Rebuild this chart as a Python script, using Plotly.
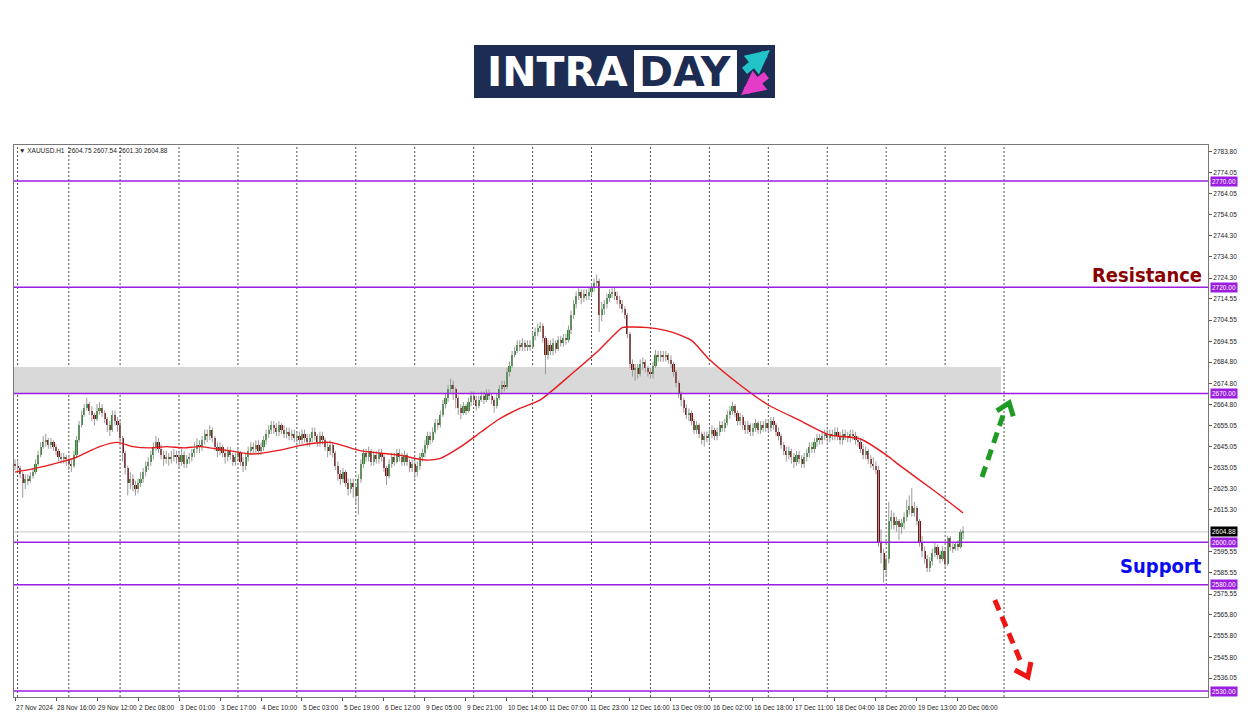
import plotly.graph_objects as go

# ---------------- data (XAUUSD H1) ----------------
first_open = 2637
closes = [
    # 27/28 Nov (bars 0-20)
    2636, 2635, 2632, 2628, 2630, 2629, 2631, 2633, 2637, 2641, 2645, 2647, 2648, 2646, 2647, 2645, 2643, 2640, 2639, 2640, 2639,
    # 29 Nov (21-40)
    2637, 2636, 2641, 2648, 2655, 2660, 2663, 2665, 2662, 2660, 2658, 2662, 2663, 2661, 2658, 2655, 2653, 2660, 2657, 2655,
    # 2 Dec (41-63)
    2649, 2642, 2635, 2628, 2630, 2627, 2625, 2628, 2630, 2633, 2636, 2638, 2641, 2645, 2647, 2644, 2641, 2639, 2640, 2639, 2640, 2641, 2640,
    # 3 Dec (64-86)
    2638, 2641, 2637, 2639, 2640, 2642, 2644, 2646, 2645, 2648, 2651, 2650, 2653, 2649, 2645, 2643, 2645, 2642, 2640, 2643, 2641, 2638, 2640,
    # 4 Dec (87-109)
    2642, 2638, 2636, 2640, 2643, 2645, 2644, 2646, 2643, 2645, 2648, 2651, 2653, 2655, 2654, 2652, 2655, 2653, 2651, 2652, 2650, 2651, 2649,
    # 5 Dec (110-132)
    2650, 2648, 2651, 2649, 2647, 2649, 2652, 2650, 2647, 2650, 2648, 2645, 2643, 2646, 2642, 2636, 2632, 2630, 2633, 2628, 2625, 2628, 2626,
    # 6 Dec (133-155)
    2622, 2630, 2637, 2642, 2640, 2643, 2638, 2641, 2639, 2642, 2640, 2635, 2631, 2637, 2640, 2638, 2642, 2640, 2638, 2641, 2638, 2635, 2637,
    # 9 Dec (156-178)
    2633, 2636, 2640, 2642, 2646, 2650, 2648, 2652, 2656, 2655, 2660, 2665, 2668, 2672, 2674, 2672, 2668, 2663, 2661, 2664, 2662, 2666, 2669,
    # 10 Dec (179-201)
    2667, 2664, 2667, 2669, 2667, 2670, 2669, 2667, 2664, 2668, 2672, 2674, 2673, 2680, 2683, 2688, 2690, 2693, 2692, 2694, 2692, 2693, 2692,
    # 11 Dec (202-224)
    2697, 2699, 2701, 2702, 2696, 2688, 2693, 2690, 2694, 2691, 2695, 2694, 2696, 2695, 2700, 2707, 2712, 2716, 2718, 2715, 2717, 2716, 2718,
    # 12 Dec (225-247)
    2720, 2722, 2723, 2707, 2710, 2712, 2715, 2717, 2718, 2716, 2714, 2712, 2710, 2707, 2698, 2684, 2681, 2682, 2679, 2684, 2685, 2682, 2680,
    # 13 Dec (248-270)
    2679, 2683, 2688, 2687, 2688, 2687, 2688, 2686, 2684, 2680, 2675, 2670, 2667, 2663, 2660, 2661, 2657, 2653, 2655, 2651, 2648, 2650, 2649,
    # 16 Dec (271-293)
    2651, 2653, 2650, 2652, 2655, 2654, 2656, 2660, 2662, 2664, 2661, 2657, 2659, 2655, 2653, 2655, 2652, 2654, 2656, 2653, 2655, 2654, 2656,
    # 17 Dec (294-316)
    2654, 2657, 2655, 2652, 2650, 2646, 2643, 2641, 2643, 2640, 2638, 2641, 2639, 2637, 2640, 2642, 2645, 2644, 2647, 2649, 2648, 2650, 2651,
    # 18 Dec (317-339)
    2649, 2651, 2650, 2652, 2650, 2648, 2651, 2650, 2649, 2651, 2650, 2648, 2647, 2644, 2641, 2643, 2639, 2637, 2636, 2634, 2600, 2595, 2587,
    # 19 Dec (340-362)
    2592, 2610, 2612, 2608, 2610, 2607, 2609, 2612, 2615, 2617, 2614, 2616, 2610, 2600, 2596, 2592, 2588, 2591, 2595, 2598, 2594, 2592, 2596,
    # 20 Dec (363-370)
    2590, 2602, 2598, 2597, 2599, 2598, 2604.75, 2604.88,
]
highs = [
    2639, 2638, 2636, 2633, 2632, 2632, 2633, 2635, 2639, 2643, 2647, 2650, 2651, 2649, 2649, 2648, 2646, 2644, 2642, 2642, 2641,
    2640, 2639, 2643, 2650, 2657, 2662, 2665, 2668, 2666, 2664, 2661, 2665, 2666, 2665, 2662, 2659, 2657, 2662, 2662, 2659,
    2657, 2650, 2643, 2636, 2633, 2632, 2629, 2630, 2633, 2635, 2638, 2640, 2643, 2647, 2650, 2649, 2646, 2643, 2643, 2642, 2643, 2644, 2643,
    2642, 2644, 2643, 2641, 2642, 2644, 2647, 2649, 2648, 2650, 2653, 2653, 2655, 2654, 2650, 2647, 2647, 2646, 2644, 2645, 2645, 2642, 2642,
    2644, 2643, 2640, 2642, 2645, 2647, 2647, 2648, 2648, 2647, 2650, 2653, 2655, 2657, 2657, 2656, 2657, 2656, 2655, 2654, 2654, 2653, 2653,
    2652, 2652, 2653, 2653, 2651, 2651, 2654, 2654, 2651, 2652, 2652, 2649, 2647, 2648, 2647, 2643, 2638, 2634, 2635, 2634, 2630, 2630, 2630,
    2628, 2632, 2639, 2644, 2644, 2645, 2644, 2643, 2643, 2644, 2644, 2641, 2636, 2639, 2642, 2642, 2644, 2644, 2642, 2643, 2642, 2639, 2639,
    2638, 2638, 2642, 2644, 2648, 2652, 2652, 2654, 2658, 2658, 2662, 2667, 2670, 2674, 2677, 2676, 2673, 2669, 2665, 2666, 2665, 2668, 2671,
    2671, 2669, 2669, 2671, 2671, 2672, 2672, 2670, 2668, 2670, 2674, 2676, 2676, 2682, 2685, 2690, 2692, 2695, 2695, 2696, 2695, 2695, 2695,
    2699, 2701, 2703, 2703.6, 2703, 2697, 2695, 2695, 2696, 2695, 2697, 2697, 2698, 2698, 2702, 2709, 2714, 2718, 2720, 2719, 2719, 2719, 2720,
    2722, 2724, 2726, 2724, 2713, 2714, 2717, 2719, 2720, 2720, 2718, 2716, 2714, 2711, 2708, 2699, 2686, 2684, 2684, 2686, 2687, 2686, 2683,
    2682, 2685, 2690.5, 2690, 2690, 2690, 2690, 2689, 2688, 2685, 2681, 2676, 2671, 2668, 2665, 2663, 2662, 2658, 2657, 2656, 2652, 2652, 2652,
    2653, 2655, 2654, 2654, 2657, 2657, 2658, 2662, 2664, 2666, 2665, 2662, 2661, 2660, 2657, 2657, 2656, 2656, 2658, 2657, 2657, 2657, 2658,
    2658, 2659, 2659, 2656, 2654, 2651, 2647, 2645, 2645, 2644, 2642, 2643, 2643, 2641, 2642, 2644, 2647, 2647, 2649, 2651, 2651, 2652, 2653,
    2653, 2653, 2653, 2654, 2654, 2652, 2653, 2653, 2652, 2653, 2653, 2652, 2650, 2649, 2646, 2645, 2644, 2641, 2640, 2638, 2636, 2606, 2597,
    2594, 2619, 2615, 2614, 2612, 2611, 2611, 2614, 2620, 2622, 2625.5, 2619, 2617, 2611, 2603, 2598, 2594, 2593, 2597, 2600, 2599, 2596, 2598,
    2597, 2603, 2603, 2600, 2600, 2601, 2606, 2607.54,
]
lows = [
    2634, 2633, 2630, 2621, 2625, 2627, 2628, 2630, 2632, 2636, 2640, 2644, 2645, 2644, 2644, 2643, 2641, 2638, 2637, 2637, 2636,
    2634, 2633, 2635, 2640, 2647, 2654, 2659, 2662, 2660, 2657, 2655, 2657, 2660, 2659, 2656, 2652, 2650, 2652, 2655, 2652,
    2646, 2638, 2632, 2622, 2625, 2624, 2622, 2623, 2626, 2628, 2631, 2634, 2636, 2639, 2643, 2642, 2639, 2636, 2637, 2636, 2637, 2638, 2637,
    2635, 2636, 2635, 2635, 2637, 2638, 2640, 2642, 2642, 2643, 2646, 2647, 2648, 2647, 2643, 2640, 2641, 2640, 2637, 2638, 2639, 2636, 2636,
    2638, 2636, 2633, 2634, 2638, 2641, 2642, 2642, 2641, 2641, 2643, 2646, 2649, 2651, 2651, 2650, 2650, 2651, 2649, 2649, 2648, 2648, 2647,
    2647, 2646, 2646, 2647, 2645, 2645, 2647, 2648, 2645, 2645, 2646, 2643, 2640, 2641, 2640, 2634, 2629, 2627, 2628, 2626, 2622, 2623, 2621,
    2618, 2613, 2628, 2635, 2638, 2638, 2636, 2636, 2637, 2637, 2638, 2633, 2627, 2630, 2635, 2636, 2637, 2638, 2636, 2636, 2636, 2633, 2633,
    2630, 2631, 2634, 2638, 2640, 2644, 2646, 2647, 2651, 2653, 2654, 2659, 2663, 2666, 2670, 2667, 2663, 2660, 2658, 2660, 2660, 2661, 2664,
    2665, 2662, 2663, 2666, 2665, 2666, 2667, 2665, 2661, 2663, 2667, 2670, 2671, 2672, 2678, 2682, 2687, 2689, 2690, 2690, 2690, 2690, 2690,
    2691, 2695, 2697, 2699, 2694, 2679, 2686, 2688, 2688, 2689, 2690, 2692, 2692, 2693, 2694, 2698, 2705, 2710, 2714, 2712, 2713, 2714, 2714,
    2716, 2718, 2720, 2699, 2704, 2707, 2710, 2713, 2715, 2714, 2712, 2710, 2708, 2705, 2696, 2682, 2678, 2676, 2677, 2678, 2681, 2680, 2678,
    2677, 2677, 2682, 2685, 2685, 2685, 2685, 2684, 2682, 2678, 2673, 2668, 2664, 2661, 2658, 2657, 2655, 2651, 2651, 2649, 2646, 2645, 2647,
    2647, 2649, 2648, 2648, 2650, 2652, 2652, 2655, 2658, 2660, 2659, 2655, 2655, 2653, 2651, 2651, 2650, 2650, 2652, 2651, 2651, 2652, 2652,
    2652, 2652, 2653, 2650, 2648, 2644, 2641, 2638, 2639, 2637, 2635, 2636, 2637, 2635, 2635, 2638, 2640, 2642, 2642, 2645, 2646, 2646, 2648,
    2647, 2647, 2648, 2648, 2648, 2646, 2646, 2648, 2647, 2647, 2648, 2646, 2645, 2642, 2639, 2639, 2637, 2635, 2634, 2632, 2598, 2590, 2581,
    2584, 2590, 2606, 2606, 2605, 2601, 2604, 2606, 2610, 2613, 2612, 2612, 2608, 2598, 2593, 2590, 2586, 2586, 2589, 2593, 2592, 2590, 2591,
    2588, 2589, 2596, 2595, 2596, 2596, 2597, 2601.30,
]

# moving average (read at selected bars)
ma_bars = [0, 7, 18, 24, 33, 40, 46, 53, 59, 66, 72, 84, 92, 104, 111, 123, 135, 150, 160, 166, 174, 182, 189,
           197, 205, 218, 228, 237, 240, 247, 256, 264, 271, 283, 294, 306, 318, 330, 340, 345, 352, 362, 370]
ma_vals = [2633.0, 2634.5, 2637.8, 2640.0, 2645.0, 2647.0, 2645.0, 2644.4, 2645.0, 2644.4, 2645.0, 2643.0, 2641.5,
           2643.5, 2645.5, 2647.0, 2643.0, 2641.0, 2638.7, 2639.5, 2645.0, 2652.0, 2658.0, 2663.0, 2667.0, 2680.0,
           2690.5, 2701.0, 2701.3, 2701.0, 2699.0, 2695.0, 2686.0, 2674.0, 2664.6, 2657.5, 2650.5, 2648.6, 2641.1,
           2636.4, 2630.2, 2621.3, 2613.8]

# levels
level_prices = [2770.00, 2720.00, 2670.00, 2600.00, 2580.00, 2530.00]
zone_low, zone_high, zone_end_bar = 2670.0, 2682.5, 384.8
day_start_bars = [1, 21, 41, 64, 87, 110, 133, 156, 179, 202, 225, 248, 271, 294, 317, 340, 363, 386]
last_price = 2604.88
header_text = "▼ XAUUSD.H1  2604.75 2607.54 2601.30 2604.88"

# axes
x_label_bars = [0, 16, 32, 48, 64, 80, 96, 112, 128, 144, 160, 176, 192, 208, 224, 240, 256, 272, 288, 304, 320, 336, 352, 368]
x_label_text = ["27 Nov 2024", "28 Nov 16:00", "29 Nov 12:00", "2 Dec 08:00", "3 Dec 01:00", "3 Dec 17:00",
                "4 Dec 10:00", "5 Dec 03:00", "5 Dec 19:00", "6 Dec 12:00", "9 Dec 05:00", "9 Dec 21:00",
                "10 Dec 14:00", "11 Dec 07:00", "11 Dec 23:00", "12 Dec 16:00", "13 Dec 09:00", "16 Dec 02:00",
                "16 Dec 18:00", "17 Dec 11:00", "18 Dec 04:00", "18 Dec 20:00", "19 Dec 13:00", "20 Dec 06:00"]
y_ticks = [2783.80, 2774.05, 2764.05, 2754.05, 2744.30, 2734.30, 2724.30, 2714.55, 2704.55, 2694.55, 2684.80,
           2674.80, 2664.80, 2655.05, 2645.05, 2635.05, 2625.30, 2615.30, 2595.55, 2585.55, 2575.55, 2565.80,
           2555.80, 2545.80, 2536.05, 2526.05]

# drawn arrows (bar index, price)
green_shaft = [(377.4, 2630.7), (386.3, 2662.2)]
green_head = [(383.2, 2661.8), (388.0, 2665.6), (389.6, 2659.3)]
red_shaft = [(382.4, 2572.8), (392.6, 2543.6)]
red_head = [(390.2, 2539.9), (395.3, 2536.6), (396.5, 2543.6)]

# ---------------- figure ----------------
N = len(closes)
opens = [first_open] + closes[:-1]
UP, DOWN, FLAT, WICK = "#2b8a2b", "#7d0f0f", "#a0a0a0", "#9a9a9a"
PURPLE = "#9b1ee0"

# page body adds an 8px offset; layout is expressed in target-pixel coordinates
OFF = 8
W, H = 1250 - OFF, 716 - OFF
PL, PR, PT, PB = 14, 1208, 145, 697  # plot area in target pixels

fig = go.Figure()

wx, wy = [], []
for i in range(N):
    o, h, l, c = opens[i], highs[i], lows[i], closes[i]
    wx += [i, i, None]
    wy += [max(h, o, c), min(l, o, c), None]
fig.add_trace(go.Scatter(x=wx, y=wy, mode="lines", line=dict(color=WICK, width=1),
                         hoverinfo="skip", showlegend=False))

body_base = [min(opens[i], closes[i]) for i in range(N)]
body_len = [max(abs(closes[i] - opens[i]), 0.45) for i in range(N)]
body_col = [UP if closes[i] > opens[i] else (DOWN if closes[i] < opens[i] else FLAT) for i in range(N)]
fig.add_trace(go.Bar(x=list(range(N)), y=body_len, base=body_base, width=0.85,
                     marker=dict(color=body_col, line=dict(width=0)), showlegend=False, hoverinfo="skip"))

fig.add_trace(go.Scatter(x=ma_bars, y=ma_vals, mode="lines",
                         line=dict(color="#e8191c", width=1.4, shape="spline", smoothing=0.6),
                         showlegend=False, hoverinfo="skip"))

shapes = []
shapes.append(dict(type="rect", xref="x", yref="y", x0=-0.4, x1=zone_end_bar, y0=zone_low, y1=zone_high,
                   fillcolor="#d9d9d9", line=dict(width=0), layer="below"))
for d in day_start_bars:
    shapes.append(dict(type="line", xref="x", yref="paper", x0=d, x1=d, y0=0, y1=1,
                       line=dict(color="#505050", width=1, dash="2px,2px"), layer="below"))
shapes.append(dict(type="line", xref="paper", yref="y", x0=0, x1=1, y0=last_price, y1=last_price,
                   line=dict(color="#c8c8c8", width=1), layer="below"))
for lv in level_prices:
    shapes.append(dict(type="line", xref="paper", yref="y", x0=0, x1=1, y0=lv, y1=lv,
                       line=dict(color=PURPLE, width=1.5)))
for shaft, head, col in [(green_shaft, green_head, "#1f9a22"), (red_shaft, red_head, "#ee1515")]:
    shapes.append(dict(type="line", xref="x", yref="y", x0=shaft[0][0], y0=shaft[0][1],
                       x1=shaft[1][0], y1=shaft[1][1], line=dict(color=col, width=5, dash="11px,7px")))
    p = "M {} {} L {} {} L {} {}".format(head[0][0], head[0][1], head[1][0], head[1][1], head[2][0], head[2][1])
    shapes.append(dict(type="path", xref="x", yref="y", path=p, line=dict(color=col, width=5)))

def px(xp):
    return (xp - PL) / (PR - PL)
def py(yp):
    return (PB - yp) / (PB - PT)

NAVY = "#1c2c52"
shapes.append(dict(type="rect", xref="paper", yref="paper", x0=px(474), x1=px(775), y0=py(98), y1=py(45),
                   fillcolor=NAVY, line=dict(width=0)))
shapes.append(dict(type="rect", xref="paper", yref="paper", x0=px(634), x1=px(737), y0=py(92), y1=py(50),
                   fillcolor="white", line=dict(width=0)))

annotations = []
annotations.append(dict(xref="paper", yref="paper", x=px(557), y=py(72), text="<b>INTRA</b>", showarrow=False,
                        font=dict(family="DejaVu Sans", size=41, color="white"), xanchor="center", yanchor="middle"))
annotations.append(dict(xref="paper", yref="paper", x=px(685), y=py(72), text="<b>DAY</b>", showarrow=False,
                        font=dict(family="DejaVu Sans", size=41, color=NAVY), xanchor="center", yanchor="middle"))
annotations.append(dict(xref="paper", yref="paper", x=px(770), y=py(50), ax=-27, ay=22, text="", showarrow=True,
                        arrowhead=2, arrowsize=0.6, arrowwidth=8, arrowcolor="#22c3c9"))
annotations.append(dict(xref="paper", yref="paper", x=px(741), y=py(95), ax=27, ay=-21, text="", showarrow=True,
                        arrowhead=2, arrowsize=0.6, arrowwidth=8, arrowcolor="#e53bc9"))

annotations.append(dict(xref="paper", yref="paper", x=px(17), y=py(150), text=header_text, showarrow=False,
                        xanchor="left", yanchor="middle", font=dict(size=6.5, color="#222")))

for lv in level_prices:
    annotations.append(dict(xref="paper", yref="y", x=1, y=lv, xshift=2, text="{:.2f}".format(lv), showarrow=False,
                            xanchor="left", yanchor="middle", bgcolor=PURPLE, borderpad=1,
                            font=dict(size=6.5, color="white")))
annotations.append(dict(xref="paper", yref="y", x=1, y=last_price, xshift=2, text="{:.2f}".format(last_price),
                        showarrow=False, xanchor="left", yanchor="middle", bgcolor="black", borderpad=1,
                        font=dict(size=6.5, color="white")))

LABEL_FONT = "DejaVu Sans Condensed, Roboto"
annotations.append(dict(xref="paper", yref="y", x=px(1204), y=2725.8, text="<b>Resistance</b>", showarrow=False,
                        xanchor="right", yanchor="middle", font=dict(family=LABEL_FONT, size=20, color="#8b0000")))
annotations.append(dict(xref="paper", yref="y", x=px(1204), y=2588.8, text="<b>Support</b>", showarrow=False,
                        xanchor="right", yanchor="middle", font=dict(family=LABEL_FONT, size=20, color="#0a0af0")))

fig.update_layout(
    width=W, height=H,
    margin=dict(l=PL - OFF, r=W - (PR - OFF), t=PT - OFF, b=H - (PB - OFF), autoexpand=False),
    paper_bgcolor="white", plot_bgcolor="white",
    font=dict(family="Liberation Sans", size=7, color="#222"),
    showlegend=False, bargap=0,
    shapes=shapes, annotations=annotations,
    xaxis=dict(range=[-0.4, 465.6], tickmode="array", tickvals=x_label_bars, ticktext=x_label_text,
               ticks="outside", ticklen=3, tickcolor="#555", ticklabelposition="outside right", tickangle=0,
               ticklabelstandoff=4,
               tickfont=dict(size=6.5, color="#222"), showgrid=False, zeroline=False,
               showline=True, linecolor="#777", linewidth=1, mirror=True, automargin=False, fixedrange=True),
    yaxis=dict(range=[2527.18, 2786.94], side="right", tickmode="array", tickvals=y_ticks,
               ticktext=["{:.2f}".format(v) for v in y_ticks], ticks="outside", ticklen=3, tickcolor="#555",
               tickfont=dict(size=6.5, color="#222"), showgrid=False, zeroline=False,
               showline=True, linecolor="#777", linewidth=1, mirror=True, automargin=False, fixedrange=True),
)

fig.write_html("out.html")
